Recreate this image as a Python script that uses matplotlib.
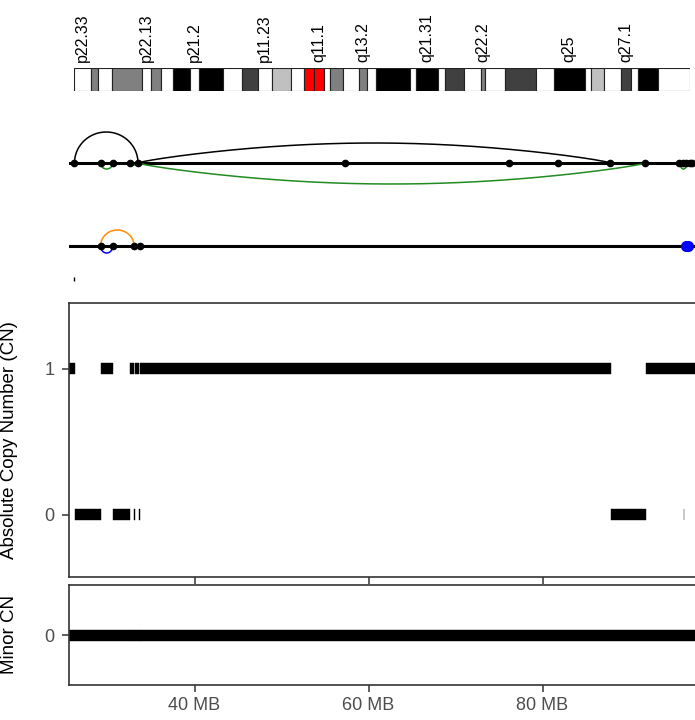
import numpy as np
import matplotlib
matplotlib.use('Agg')
import matplotlib.pyplot as plt
from matplotlib.patches import Rectangle

plt.rcParams['font.family'] = ['Liberation Sans', 'DejaVu Sans']

# chrX bands (hg19), Mb
band_start = [0, 4.3, 6.0, 9.5, 17.1, 19.3, 21.9, 24.9, 29.3, 31.5, 37.6, 42.4, 46.4, 49.8,
              54.8, 58.1, 60.6, 63.0, 64.6, 67.8, 71.8, 73.9, 76.0, 84.6, 86.2, 91.8, 93.5,
              98.3, 102.6, 103.7, 108.7, 116.5, 120.9, 128.7, 130.4, 133.6, 138.0, 140.3,
              142.1, 147.1]
band_end = band_start[1:] + [155.27]
band_name = ['p22.33', 'p22.32', 'p22.31', 'p22.2', 'p22.13', 'p22.12', 'p22.11', 'p21.3',
             'p21.2', 'p21.1', 'p11.4', 'p11.3', 'p11.23', 'p11.22', 'p11.21', 'p11.1',
             'q11.1', 'q11.2', 'q12', 'q13.1', 'q13.2', 'q13.3', 'q21.1', 'q21.2', 'q21.31',
             'q21.32', 'q21.33', 'q22.1', 'q22.2', 'q22.3', 'q23', 'q24', 'q25', 'q26.1',
             'q26.2', 'q26.3', 'q27.1', 'q27.2', 'q27.3', 'q28']
band_stain = ['gneg', 'gpos50', 'gneg', 'gpos50', 'gneg', 'gpos50', 'gneg', 'gpos100',
              'gneg', 'gpos100', 'gneg', 'gpos75', 'gneg', 'gpos25', 'gneg', 'acen',
              'acen', 'gneg', 'gpos50', 'gneg', 'gpos50', 'gneg', 'gpos100', 'gneg', 'gpos100',
              'gneg', 'gpos75', 'gneg', 'gpos50', 'gneg', 'gpos75', 'gneg', 'gpos100', 'gneg',
              'gpos25', 'gneg', 'gpos75', 'gneg', 'gpos100', 'gneg']
stain_col = {'gneg': 'white', 'gpos25': '#C0C0C0', 'gpos50': '#808080',
             'gpos75': '#404040', 'gpos100': 'black', 'acen': 'red'}

# copy number segments (Mb)
seg_start = [25.5, 26.26, 29.22, 30.57, 32.59, 33.05, 33.16, 33.62, 33.74, 87.82, 91.84, 96.21, 96.26]
seg_end = [26.26, 29.22, 30.57, 32.59, 33.05, 33.16, 33.62, 33.74, 87.82, 91.84, 96.21, 96.26, 98.0]
seg_cn = [1, 0, 1, 0, 1, 0, 1, 0, 1, 0, 1, 0, 1]
seg_minor = [0, 0, 0, 0, 0, 0, 0, 0, 0, 0, 0, 0, 0]

# junction graph tracks
t1_nodes = [26.2, 29.2, 30.6, 32.6, 33.5, 57.3, 76.1, 81.8, 87.8, 91.8, 95.7, 96.1, 96.5, 96.9, 97.2]
t1_arc_from = [26.2, 33.5, 33.5, 29.2, 32.6, 95.8]
t1_arc_to = [33.5, 87.8, 91.8, 30.6, 33.5, 96.6]
t1_arc_h = [31, 20, -21, -6, -2, -6]
t1_arc_col = ['black', 'black', 'forestgreen', 'forestgreen', 'forestgreen', 'forestgreen']

t2_nodes = [29.2, 30.6, 33.05, 33.74]
t2_arc_from = [29.2, 29.2]
t2_arc_to = [33.05, 30.6]
t2_arc_h = [16, -7]
t2_arc_col = ['darkorange', 'blue']
t2_loops = [96.45, 96.75]

t3_marks = [26.2]

W, H = 695, 720
fig = plt.figure(figsize=(W / 100, H / 100), dpi=100)


def fax(x0, y0, x1, y1):
    return fig.add_axes([x0 / W, 1 - y1 / H, (x1 - x0) / W, (y1 - y0) / H])


XL = (25.57, 25.57 + (697 - 69) / 8.7)
frame = '#333333'
tick_col = '#4D4D4D'

# ideogram
ax0 = fax(74, 68, 690, 91)
for s, e, st in zip(band_start, band_end, band_stain):
    ax0.add_patch(Rectangle((s, 0), e - s, 1, facecolor=stain_col[st],
                            edgecolor='#222222', lw=0.8))
for i in range(0, len(band_name), 4):
    ax0.text((band_start[i] + band_end[i]) / 2, 1.25, band_name[i], rotation=90,
             ha='center', va='bottom', fontsize=11.5, color='black')
ax0.set_xlim(0, 155.27)
ax0.set_ylim(0, 1)
ax0.axis('off')


def draw_track(ax, nodes, a_from, a_to, a_h, a_col):
    ax.axhline(0, color='black', lw=2.2, zorder=1)
    t = np.linspace(0, np.pi, 200)
    for a, b, h, c in zip(a_from, a_to, a_h, a_col):
        if b - a > 20:
            # long links: flatter, sloped ends
            xs = a + (b - a) * t / np.pi
            ys = h * np.sin(t) ** 0.8
        else:
            xs = (a + b) / 2 - (b - a) / 2 * np.cos(t)
            ys = h * np.sin(t)
        ax.plot(xs, ys, color=c, lw=1.1, zorder=2)
    ax.plot(nodes, [0] * len(nodes), 'o', color='black', ms=4.5, zorder=3)
    ax.set_xlim(*XL)
    ax.set_ylim(-40, 40)
    ax.axis('off')


ax1 = fax(69, 123, 697, 203)
draw_track(ax1, t1_nodes, t1_arc_from, t1_arc_to, t1_arc_h, t1_arc_col)

ax2 = fax(69, 206, 697, 286)
draw_track(ax2, t2_nodes, t2_arc_from, t2_arc_to, t2_arc_h, t2_arc_col)
ax2.plot(t2_loops, [0] * len(t2_loops), 'o', color='blue', ms=7, zorder=4)

ax3 = fax(69, 270, 697, 290)
ax3.vlines(t3_marks, 0.45, 0.65, color='black', lw=1)
ax3.set_xlim(*XL)
ax3.set_ylim(0, 1)
ax3.axis('off')


def draw_cn(ax, vals, ylim, px_h, bar_px=11):
    h = bar_px * (ylim[1] - ylim[0]) / px_h
    for s, e, v in zip(seg_start, seg_end, vals):
        ax.add_patch(Rectangle((s, v - h / 2), e - s, h, facecolor='black',
                               edgecolor='black', lw=0.3))
    ax.set_xlim(*XL)
    ax.set_ylim(*ylim)
    for sp in ax.spines.values():
        sp.set_color(frame)
        sp.set_linewidth(1.2)
    ax.tick_params(colors=frame, labelcolor=tick_col, labelsize=13, length=4.7, width=1.1)
    ax.tick_params(axis='x', pad=4)
    ax.tick_params(axis='y', pad=5.5)
    ax.set_xticks([40, 60, 80])
    ax.yaxis.set_label_coords((10 - 69) / 628, 0.5)


ax4 = fax(69, 303, 697, 577)
draw_cn(ax4, seg_cn, (-0.425, 1.452), 274)
ax4.set_yticks([0, 1])
ax4.set_xticklabels([])
ax4.set_ylabel('Absolute Copy Number (CN)', fontsize=13.5, va='center')

ax5 = fax(69, 585, 697, 685)
draw_cn(ax5, seg_minor, (-0.5, 0.5), 100)
ax5.set_yticks([0])
ax5.set_xticklabels(['40 MB', '60 MB', '80 MB'])
ax5.set_ylabel('Minor CN', fontsize=13.5, va='center')
ax5.yaxis.set_label_coords((10 - 69) / 628, 0.5)
ax4.yaxis.set_label_coords((10 - 69) / 628, 0.5)

fig.savefig('out.png', dpi=100)
